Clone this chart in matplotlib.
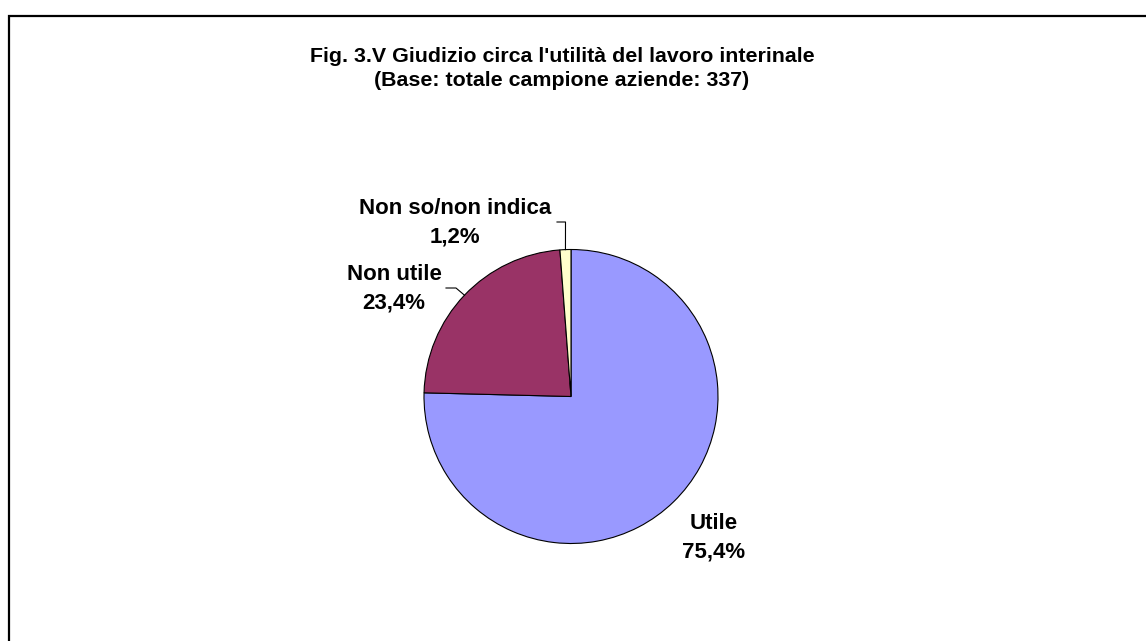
import matplotlib
matplotlib.use("Agg")
import matplotlib.pyplot as plt
from matplotlib.patches import Rectangle
import numpy as np

# data
categories = ["Utile", "Non utile", "Non so/non indica"]
values = [75.4, 23.4, 1.2]
pct_labels = ["75,4%", "23,4%", "1,2%"]
colors = ["#9999FF", "#993366", "#FFFFCC"]

W, H = 1146, 641
plt.rcParams['font.family'] = ['Liberation Sans', 'DejaVu Sans']

fig = plt.figure(figsize=(W / 100, H / 100), dpi=100)
ax = fig.add_axes([0, 0, 1, 1])
ax.set_xlim(0, W)
ax.set_ylim(0, H)
ax.set_aspect('equal')
ax.axis('off')

# work in image pixel coords (y down) -> convert
def Y(y):
    return H - y

# chart frame (only top and left edges fall inside the image)
ax.add_patch(Rectangle((9, Y(15.5) - 700), 1200, 700, fill=False,
                       edgecolor='black', linewidth=1.6))

ax.text(562, Y(57), "Fig. 3.V Giudizio circa l'utilità del lavoro interinale",
        ha='center', va='center', fontsize=15.4, fontweight='bold')
ax.text(562, Y(80), "(Base: totale campione aziende: 337)",
        ha='center', va='center', fontsize=15.4, fontweight='bold')

cx, cy, r = 571, Y(396.5), 147
wedges, _ = ax.pie(values, colors=colors, startangle=90, counterclock=False,
                   center=(cx, cy), radius=r,
                   wedgeprops=dict(edgecolor='black', linewidth=0.8))
ax.set_xlim(0, W)
ax.set_ylim(0, H)

# label positions (image px): text centre, leader elbow
label_pos = {
    "Utile": (714, 537.5, None),
    "Non utile": (394, 289, (446, 288, 456, 288)),
    "Non so/non indica": (455, 223, (557, 222, 565.5, 222)),
}

for w, cat, pct in zip(wedges, categories, pct_labels):
    tx, ty, lead = label_pos[cat]
    ax.text(tx, Y(ty), cat + "\n" + pct, ha='center', va='center',
            fontsize=16, fontweight='bold', linespacing=1.45)
    if lead is not None:
        mid = np.deg2rad((w.theta1 + w.theta2) / 2)
        ex = cx + r * np.cos(mid)
        ey = cy + r * np.sin(mid)
        x0, y0, x1, y1 = lead
        ax.plot([x0, x1, ex], [Y(y0), Y(y1), ey], color='black', linewidth=0.8)

fig.savefig("out.png", dpi=100)
